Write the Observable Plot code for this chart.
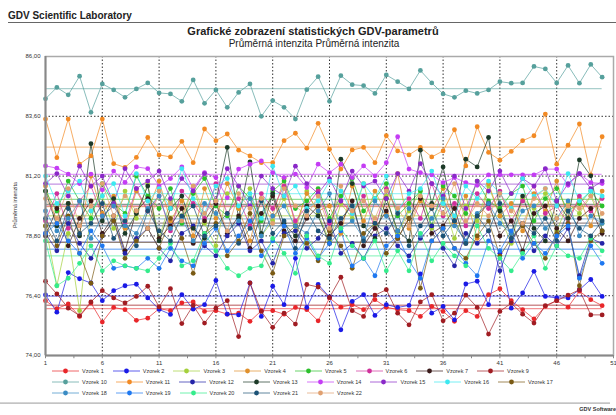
<!DOCTYPE html>
<html><head><meta charset="utf-8">
<script src="https://cdn.jsdelivr.net/npm/d3@7"></script>
<script src="https://cdn.jsdelivr.net/npm/@observablehq/plot@0.6"></script>
<style>
body{margin:0;background:#fff;font-family:"Liberation Sans",Arial,sans-serif;}
#root{position:relative;width:616px;height:415px;overflow:hidden;background:#fff}
#root svg.plot{position:absolute;left:0;top:0}
.abs{position:absolute;white-space:nowrap;color:#222}
.lab{left:8px;top:10px;font-weight:bold;font-size:10px}
.hline{left:8px;right:0;top:22px;height:1px;background:#666}
.title{left:0;width:626px;text-align:center;top:25px;font-weight:bold;font-size:11px}
.sub{left:0;width:628px;text-align:center;top:38px;font-size:10px}
.ytitle{left:15px;top:205px;font-size:5.5px;transform:translate(-50%,-50%) rotate(-90deg);color:#333}
.legrow{position:absolute;left:52px;display:flex;align-items:center;height:8px}
.item{display:flex;align-items:center;margin-right:9px}
.item span{font-size:5.5px;color:#333;margin-left:3px}
.foot{left:0;right:6px;top:402px;height:2px;background:linear-gradient(#ddd,#bbb)}
.soft{right:0;top:406px;font-weight:bold;font-size:5.5px;color:#333}
</style></head><body><div id="root"></div>
<script>
const sampleNames = ["Vzorek 1","Vzorek 2","Vzorek 3","Vzorek 4","Vzorek 5","Vzorek 6","Vzorek 7","Vzorek 9",
  "Vzorek 10","Vzorek 11","Vzorek 12","Vzorek 13","Vzorek 14","Vzorek 15","Vzorek 16","Vzorek 17",
  "Vzorek 18","Vzorek 19","Vzorek 20","Vzorek 21","Vzorek 22"];
const seriesColors = ["#e8262a","#1a1ae6","#a4d03c","#e0902c","#2cc02c","#d0309c","#3a1a1a","#a01c22",
  "#56a09c","#f28a24","#2424a8","#1c3a28","#c43cf4","#8a28c8","#3ce8f0","#7a5a14",
  "#3a8cc4","#1e78f0","#34ec8c","#1c5276","#e0a070"];
const legendRows = [8, 8, 5];
const ticksX = [1,6,11,16,21,26,31,36,41,46,51];
const ticksY = [74,76.4,78.8,81.2,83.6,86];

const v1 = [76.20,75.88,76.07,75.57,76.11,75.34,75.93,75.84,75.41,75.50,75.88,75.80,76.11,76.15,75.77,75.80,75.66,75.70,75.37,75.80,
  75.80,75.66,75.93,75.84,75.39,76.31,75.94,76.04,75.84,76.24,75.94,75.84,75.80,75.57,75.97,75.77,75.37,75.80,75.57,76.44,
  76.68,76.20,75.84,75.47,75.97,76.20,75.94,76.58,76.24,76.00];
const v2 = [76.43,75.74,77.33,77.08,76.91,76.20,76.60,76.80,76.86,76.31,75.85,75.65,76.44,75.86,76.04,77.01,75.66,75.63,76.91,75.57,
  76.78,76.04,77.90,75.93,76.85,76.35,75.03,76.17,76.44,75.61,76.04,75.93,76.01,77.27,75.70,75.97,75.43,76.87,76.98,76.04,
  78.10,75.90,76.51,77.38,76.37,76.31,76.31,76.64,77.05,76.37];
const v3 = [79.2,76.8,78.9,75.8,79.8,80.4,79.1,80.6,79.5,80.9,78.7,80.2,79.6,80.8,79.3,78.4,80.5,79.9,80.7,78.8,
  79.4,80.3,79.0,80.6,79.7,78.6,80.1,79.5,80.9,79.2,80.4,78.9,79.8,80.6,79.1,80.2,78.7,80.0,79.4,80.8,
  79.6,78.5,80.3,79.9,80.5,79.0,80.1,79.7,80.4,79.3];
const v4 = [80.8,79.3,80.1,78.9,81.2,79.7,80.4,79.1,80.6,79.8,81.0,79.4,80.2,78.8,80.7,79.5,80.9,79.9,78.6,80.3,
  79.6,81.1,79.2,80.5,79.8,80.0,78.9,80.8,79.4,80.6,79.7,81.3,79.1,80.2,79.9,80.7,79.3,80.4,78.7,80.9,
  79.6,80.1,79.0,80.5,79.8,81.0,79.5,80.3,79.2,80.6];
const v5 = [80.6,79.8,81.0,80.2,79.5,80.9,80.1,79.7,81.2,80.4,79.9,80.7,79.3,80.5,81.1,80.0,79.6,80.8,80.3,79.4,
  80.6,81.0,79.9,80.2,80.7,79.5,80.4,81.1,79.8,80.3,80.9,79.6,80.1,80.6,79.2,80.8,80.4,79.7,81.0,80.2,
  79.9,80.5,80.8,79.4,80.3,80.7,79.8,80.1,80.6,80.0];
const v6 = [79.4,80.5,79.1,80.2,80.8,79.6,80.0,79.3,80.7,79.8,80.4,79.0,80.6,80.1,79.5,80.9,79.7,80.3,79.2,80.5,
  79.9,80.8,79.4,80.0,80.6,79.3,80.2,79.7,80.4,79.1,80.7,79.8,80.3,79.5,80.9,79.6,80.1,79.2,80.5,79.9,
  80.6,79.4,80.2,80.8,79.7,80.0,79.3,80.4,79.8,80.3];
const v7 = [78.8,79.9,78.4,79.5,80.2,78.9,79.6,78.2,79.8,80.3,78.7,79.2,79.9,78.5,79.4,80.1,78.9,79.6,78.3,79.7,
  80.4,79.0,78.6,79.5,80.0,78.8,79.3,80.2,78.4,79.1,79.8,78.7,79.5,80.3,78.9,79.2,79.9,78.5,79.6,80.1,
  78.8,79.4,78.2,79.7,80.0,79.1,78.6,79.5,79.9,78.9];
const v9 = [76.98,76.47,75.90,75.60,76.15,76.60,76.31,76.11,76.37,76.78,75.95,76.68,75.28,76.01,75.30,75.90,76.20,74.76,76.91,75.77,
  75.13,75.70,75.26,76.85,76.75,76.33,77.14,75.80,75.57,76.42,76.64,75.70,75.23,76.15,76.44,75.39,75.70,76.42,75.93,74.86,
  75.77,76.10,75.66,75.30,76.00,76.20,76.42,76.64,75.63,75.63];
const v10 = [84.30,84.76,84.46,85.21,83.76,84.90,84.66,84.36,84.70,84.94,84.54,84.50,84.20,85.06,84.12,84.66,83.96,84.56,84.90,83.60,
  84.23,83.96,83.49,84.67,85.19,84.20,85.23,84.87,84.83,84.52,85.26,84.99,84.70,85.44,84.94,84.50,84.36,84.63,84.52,84.66,
  84.99,84.93,84.94,85.60,85.50,84.94,85.64,84.93,85.68,85.17];
const v11 = [83.49,81.94,83.49,81.68,82.01,83.49,81.70,81.55,81.95,82.75,82.05,81.97,82.59,81.74,83.09,82.62,82.89,82.24,82.01,81.74,
  81.74,82.62,82.92,82.32,83.32,82.28,81.48,82.25,82.35,81.74,82.82,82.21,82.05,82.35,81.97,82.21,83.06,81.61,83.18,82.15,
  81.84,82.19,82.62,82.82,83.69,81.68,82.44,83.29,81.25,82.78];
const v12 = [78.9,78.2,79.3,78.5,77.9,78.8,79.4,78.1,78.7,79.1,78.3,77.8,78.9,79.2,78.4,78.0,78.8,79.3,78.2,78.6,
  77.7,78.9,79.0,78.3,78.7,79.4,78.1,78.5,77.9,78.8,79.1,78.4,78.0,78.7,79.2,78.3,77.6,78.9,78.5,79.0,
  77.4,78.6,79.3,78.2,78.8,78.4,79.1,77.2,78.7,78.5];
const v13 = [80.6,79.2,80.1,78.8,82.5,79.4,80.3,78.9,79.7,80.8,78.6,79.9,80.4,79.1,78.7,80.2,82.35,79.5,81.77,78.9,
  80.5,79.3,78.8,80.0,79.6,78.5,81.88,80.9,79.2,78.7,80.3,79.0,78.6,82.24,80.1,81.57,79.4,81.88,81.57,82.75,
  79.8,78.9,80.4,79.1,78.6,80.2,79.5,81.85,81.21,79.0];
const v14 = [81.61,81.52,81.28,80.90,81.28,80.65,81.40,80.95,81.57,81.50,80.80,81.10,81.57,80.70,81.34,81.14,80.33,81.48,81.68,81.81,
  81.34,81.14,81.28,80.74,81.68,81.34,81.68,81.14,81.61,81.21,81.74,82.78,81.48,81.34,81.25,80.94,81.14,80.94,80.83,81.25,
  81.25,81.25,81.25,81.25,81.48,81.48,80.83,81.30,80.94,80.90];
const v15 = [80.9,81.3,80.4,81.6,80.8,81.2,80.1,81.5,80.7,81.0,81.4,80.3,81.1,80.6,81.3,80.2,81.5,80.8,80.0,81.2,
  80.7,80.4,81.6,80.9,80.5,81.1,80.2,81.4,80.8,81.0,80.3,81.3,80.6,81.7,80.9,80.4,81.2,79.9,81.0,80.6,
  81.4,80.5,81.1,80.8,81.5,80.2,80.9,81.3,80.7,81.0];
const v16 = [81.2,80.1,80.6,81.0,79.8,80.4,80.9,79.6,81.3,80.2,80.7,79.9,81.5,80.3,79.7,80.8,81.1,80.0,80.5,79.5,
  81.6,80.4,80.8,79.9,80.2,81.0,80.6,79.7,80.9,80.3,81.2,79.8,80.5,80.7,81.4,80.1,79.6,80.8,80.3,81.0,
  80.5,79.9,81.1,80.4,80.7,80.0,81.3,80.2,80.6,80.4];
const v17 = [79.2,78.4,79.6,78.1,76.9,78.8,79.4,77.9,78.6,79.1,78.3,79.5,78.7,77.3,78.9,79.3,78.0,78.6,79.7,78.2,
  77.3,78.8,79.2,78.5,77.8,79.0,78.4,77.5,78.9,79.3,78.1,78.7,79.5,76.7,78.6,79.1,78.3,77.9,78.8,79.4,
  78.0,78.7,79.2,78.5,77.9,78.9,79.3,76.8,78.6,79.0];
const v18 = [79.8,79.0,79.5,80.2,78.7,79.6,80.0,79.2,78.9,79.9,80.4,79.1,79.5,78.6,80.1,79.7,79.0,79.4,80.3,78.8,
  79.6,80.0,79.2,78.9,79.8,80.5,79.1,79.4,78.7,80.2,79.6,79.0,79.9,78.8,79.5,80.3,79.2,78.6,79.7,80.1,
  79.3,78.9,79.8,80.0,79.1,79.5,80.2,78.8,79.6,79.3];
const v19 = [78.9,79.3,78.6,78.1,79.0,78.4,77.5,77.6,77.5,77.9,77.5,78.3,77.8,77.6,78.5,79.1,78.2,78.8,79.4,78.0,
  78.6,79.2,78.1,78.7,77.9,78.5,79.0,77.6,77.9,77.2,78.4,78.8,77.8,77.1,78.6,79.1,78.3,77.7,77.2,78.6,
  78.2,79.0,77.9,78.5,78.1,78.8,79.2,77.1,78.4,77.7];
const v20 = [78.6,76.8,77.1,77.7,78.4,77.4,77.8,77.6,77.5,77.4,77.9,78.5,77.6,77.8,78.9,78.2,77.5,77.2,77.5,77.6,
  78.7,78.1,77.3,78.8,78.0,77.7,79.1,78.4,77.9,78.6,77.4,78.2,77.4,78.9,77.8,78.5,78.0,77.6,79.2,78.3,
  77.9,77.4,78.1,78.8,77.5,78.4,78.0,77.9,78.7,78.2];
const v21 = [79.5,78.6,79.9,78.9,79.3,80.1,78.7,79.4,78.4,79.8,79.0,78.6,79.6,80.0,78.8,79.2,79.7,78.5,79.1,80.2,
  78.9,79.4,78.3,79.8,79.0,78.7,79.5,80.0,78.6,79.3,78.9,79.7,78.4,79.2,79.9,78.8,79.4,78.5,79.6,79.0,
  80.1,78.7,79.3,78.9,79.5,78.6,79.8,79.1,78.8,79.4];
const v22 = [80.3,79.5,80.7,79.2,80.0,80.9,79.6,80.4,79.8,79.1,80.6,80.1,79.4,80.8,79.7,80.2,79.0,80.5,79.9,80.3,
  79.3,80.7,80.0,79.6,80.4,79.1,80.8,79.8,80.2,79.5,80.6,79.9,79.2,80.4,80.0,79.7,80.9,79.4,80.1,79.6,
  80.5,79.8,79.3,80.3,80.7,79.5,80.0,79.9,80.4,79.7];

const valuesBySeries = [v1,v2,v3,v4,v5,v6,v7,v9,v10,v11,v12,v13,v14,v15,v16,v17,v18,v19,v20,v21,v22];

const rows = [];
sampleNames.forEach((name, i) => valuesBySeries[i].forEach((v, j) => rows.push({name, x: j + 1, v})));
const means = sampleNames.map((name, i) => ({name, mean: d3.mean(valuesBySeries[i]), x1: 1, x2: valuesBySeries[i].length}));
const minorX = d3.range(1, 51.01, 2.5);

const chart = Plot.plot({
  width: 616, height: 368,
  marginTop: 56, marginBottom: 13, marginLeft: 45, marginRight: 3,
  style: {fontFamily: "'Liberation Sans', Arial, sans-serif", fontSize: "6px", color: "#333", background: "transparent", overflow: "visible"},
  x: {domain: [1, 51], ticks: ticksX, tickSize: 0, tickPadding: 5, tickFormat: d => String(d), label: null},
  y: {domain: [74, 86], ticks: ticksY, tickSize: 0, tickPadding: 5, tickFormat: d => d.toFixed(2).replace(".", ","), label: null},
  color: {domain: sampleNames, range: seriesColors},
  marks: [
    Plot.ruleX(ticksX.slice(1, -1), {stroke: "#333", strokeDasharray: "1.5,2", strokeWidth: 1}),
    Plot.ruleY(ticksY.slice(1, -1), {stroke: "#333", strokeDasharray: "1.5,2", strokeWidth: 1}),
    Plot.ruleY(means, {y: "mean", x1: "x1", x2: "x2", stroke: "name", strokeOpacity: 0.5, strokeWidth: 1.3}),
    Plot.line(rows, {x: "x", y: "v", z: "name", stroke: "name", strokeWidth: 1, strokeOpacity: 0.7}),
    Plot.dot(rows, {x: "x", y: "v", fill: "name", r: 2.4}),
    Plot.frame({stroke: "#aaa", strokeWidth: 1.5}),
    Plot.ruleX([1], {stroke: "#888", strokeWidth: 2}),
    Plot.ruleY([74], {stroke: "#888", strokeWidth: 2}),
    Plot.ruleX(minorX, {y1: 74, y2: 73.87, stroke: "#888"})
  ]
});
chart.classList.add("plot");

const root = document.getElementById("root");
root.appendChild(chart);
function add(cls, text) { const d = document.createElement("div"); d.className = "abs " + cls; if (text) d.textContent = text; root.appendChild(d); return d; }
add("lab", "GDV Scientific Laboratory");
add("hline");
add("title", "Grafické zobrazení statistických GDV-parametrů");
add("sub", "Průměrná intenzita Průměrná intenzita");
add("ytitle", "Průměrná intenzita");
add("foot");
add("soft", "GDV Software");

let k = 0;
const rowTops = [367, 378, 389];
legendRows.forEach((n, r) => {
  const row = document.createElement("div");
  row.className = "legrow";
  row.style.top = rowTops[r] + "px";
  for (let j = 0; j < n; j++, k++) {
    const it = document.createElement("div");
    it.className = "item";
    const c = seriesColors[k];
    it.innerHTML = `<svg width="27" height="8"><line x1="0" y1="4" x2="27" y2="4" stroke="${c}" stroke-opacity="0.7" stroke-width="1"/><circle cx="13.5" cy="4" r="2.4" fill="${c}"/></svg><span>${sampleNames[k]}</span>`;
    row.appendChild(it);
  }
  root.appendChild(row);
});
</script></body></html>
